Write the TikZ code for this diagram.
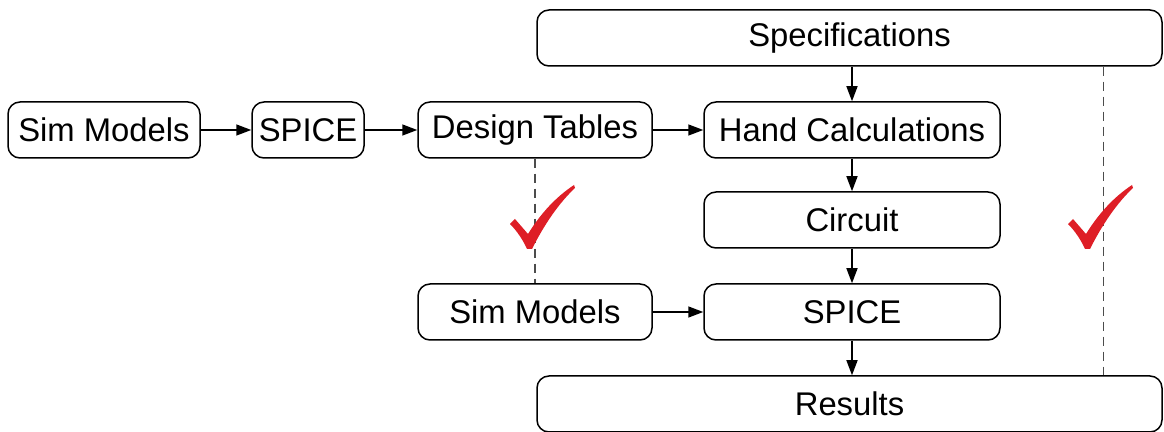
\documentclass[tikz,border=0pt]{standalone}
\usepackage{fontspec}
\setmainfont{Liberation Sans}
\usetikzlibrary{arrows.meta}
\definecolor{checkred}{RGB}{222,30,38}
\begin{document}
\begin{tikzpicture}[x=0.5pt,y=-0.5pt,
  box/.style={draw, line width=0.75pt, rounded corners=6pt, minimum height=28pt,
    inner sep=0pt, font=\fontsize{16.4}{19}\selectfont, fill=white},
  flow/.style={line width=0.75pt, -{Triangle[length=7.5pt,width=5.5pt]}},
  guide/.style={line width=0.7pt, draw=black!70, dash pattern=on 4.5pt off 3pt},
  tick/.style={fill=checkred, draw=none}]
\useasboundingbox (0,0) rectangle (1164,432);

% process boxes
\node[box, minimum width=312.5pt] (spec)    at (849.5,38)  {Specifications};
\node[box, minimum width=96pt]    (simA)    at (104,130)   {Sim Models};
\node[box, minimum width=56pt]    (spiceA)  at (308,130)   {SPICE};
\node[box, minimum width=117pt]   (design)  at (535,130)   {Design Tables};
\node[box, minimum width=148pt]   (hand)    at (852,130)   {Hand Calculations};
\node[box, minimum width=148pt]   (circuit) at (852,220)   {Circuit};
\node[box, minimum width=117pt]   (simB)    at (535,312)   {Sim Models};
\node[box, minimum width=148pt]   (spiceB)  at (852,312)   {SPICE};
\node[box, minimum width=312.5pt] (results) at (849.5,404) {Results};

% flow arrows
\draw[flow] (simA) -- (spiceA);
\draw[flow] (spiceA) -- (design);
\draw[flow] (design) -- (hand);
\draw[flow] (hand.north |- spec.south) -- (hand.north);
\draw[flow] (hand) -- (circuit);
\draw[flow] (circuit) -- (spiceB);
\draw[flow] (simB) -- (spiceB);
\draw[flow] (spiceB.south) -- (spiceB.south |- results.north);

% verification guides
\draw[guide] (design.south) -- (simB.north);
\draw[guide] ([xshift=-29.5pt]spec.south east) -- ([xshift=-29.5pt]results.north east);

% check marks: short heavy stroke, long tapering stroke
\foreach \dx in {0,558} {
  \fill[tick, shift={(\dx,0)}]
    (510,224) -- (515,219) -- (528,234)
    .. controls (541,213) and (556,197) .. (574,185)
    -- (575,188)
    .. controls (560,202) and (545,223) .. (532,249)
    -- (527,249)
    .. controls (523,240) and (517,231) .. cycle;
}
\end{tikzpicture}
\end{document}
